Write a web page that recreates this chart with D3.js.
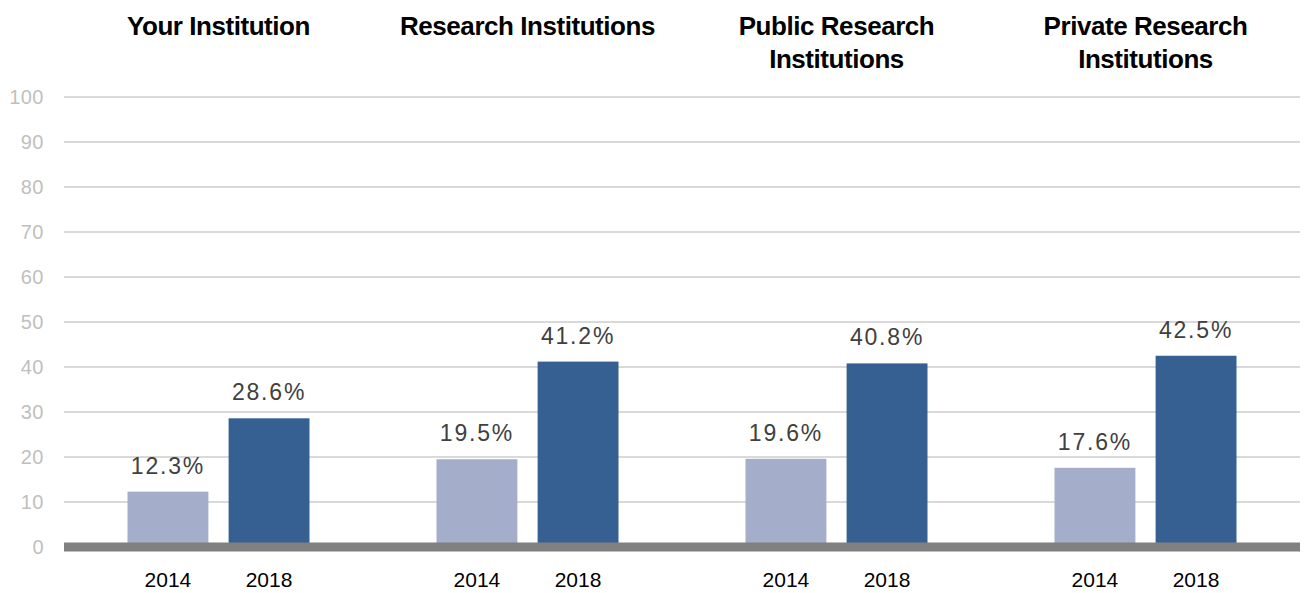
<!DOCTYPE html>
<html>
<head>
<meta charset="utf-8">
<script src="https://cdn.jsdelivr.net/npm/d3@7"></script>
<style>
  body { margin: 0; background: #fff; }
  svg text { font-family: "Liberation Sans", Arial, sans-serif; }
</style>
</head>
<body>
<div id="chart"></div>
<script>
// data
var groups = [["Your Institution"], ["Research Institutions"], ["Public Research", "Institutions"], ["Private Research", "Institutions"]];
var years = ["2014", "2018"];
var values2014 = [12.3, 19.5, 19.6, 17.6];
var values2018 = [28.6, 41.2, 40.8, 42.5];
var yTicks = [0, 10, 20, 30, 40, 50, 60, 70, 80, 90, 100];
var colors = ["#a4adc9", "#366092"];

var width = 1304, height = 593;
var margin = {top: 97, right: 4, bottom: 46, left: 64};
var innerW = width - margin.left - margin.right,
    innerH = height - margin.top - margin.bottom;

var svg = d3.select("#chart").append("svg")
    .attr("width", width)
    .attr("height", height);

var g = svg.append("g")
    .attr("transform", "translate(" + margin.left + "," + margin.top + ")");

var x0 = d3.scaleBand().domain(d3.range(groups.length)).range([0, innerW]);
var x1 = d3.scaleBand().domain(years).range([x0.bandwidth() / 2 - 91, x0.bandwidth() / 2 + 91]).paddingInner(0.2);
var y = d3.scaleLinear().domain([0, 100]).range([innerH, 0]);

// gridlines
g.selectAll(".grid")
    .data(yTicks.slice(1))
    .enter().append("line")
    .attr("x1", 0)
    .attr("x2", innerW)
    .attr("y1", function(d) { return y(d); })
    .attr("y2", function(d) { return y(d); })
    .attr("stroke", "#d9d9d9")
    .attr("stroke-width", 2);

// y axis labels
var yAxis = d3.axisLeft(y).tickValues(yTicks).tickSize(0).tickPadding(20);
g.append("g")
    .call(yAxis)
    .call(function(a) { a.select(".domain").remove(); })
    .selectAll("text")
    .attr("fill", "#bfbfbf")
    .style("font-size", "20px")
    .style("letter-spacing", "0.5px");

var rows = [];
groups.forEach(function(name, i) {
  rows.push({group: i, year: "2014", value: values2014[i]});
  rows.push({group: i, year: "2018", value: values2018[i]});
});

var bx = function(d) { return x0(d.group) + x1(d.year); };

g.selectAll(".bar")
    .data(rows)
    .enter().append("rect")
    .attr("class", "bar")
    .attr("x", bx)
    .attr("width", x1.bandwidth())
    .attr("y", function(d) { return y(d.value); })
    .attr("height", function(d) { return innerH - y(d.value); })
    .attr("fill", function(d) { return d.year == "2014" ? colors[0] : colors[1]; });

// value labels
g.selectAll(".val")
    .data(rows)
    .enter().append("text")
    .attr("x", function(d) { return bx(d) + x1.bandwidth() / 2; })
    .attr("y", function(d) { return y(d.value) - 18; })
    .attr("text-anchor", "middle")
    .attr("fill", "#404040")
    .style("font-size", "23px")
    .style("letter-spacing", "1.8px")
    .text(function(d) { return d.value.toFixed(1) + "%"; });

// zero axis band
g.append("line")
    .attr("x1", 0)
    .attr("x2", innerW)
    .attr("y1", y(0))
    .attr("y2", y(0))
    .attr("stroke", "#808080")
    .attr("stroke-width", 9);

// year labels
g.selectAll(".yr")
    .data(rows)
    .enter().append("text")
    .attr("x", function(d) { return bx(d) + x1.bandwidth() / 2; })
    .attr("y", innerH + 40)
    .attr("text-anchor", "middle")
    .attr("fill", "#000")
    .style("font-size", "21px")
    .text(function(d) { return d.year; });

// group titles
groups.forEach(function(lines, i) {
  var t = svg.append("text")
      .attr("x", margin.left + x0(i) + x0.bandwidth() / 2)
      .attr("y", 35)
      .attr("text-anchor", "middle")
      .attr("fill", "#000")
      .style("font-size", "26px")
      .style("font-weight", "bold")
      .style("letter-spacing", "-0.45px");
  lines.forEach(function(l, j) {
    t.append("tspan")
        .attr("x", margin.left + x0(i) + x0.bandwidth() / 2)
        .attr("dy", j == 0 ? 0 : 33)
        .text(l);
  });
});
</script>
</body>
</html>
